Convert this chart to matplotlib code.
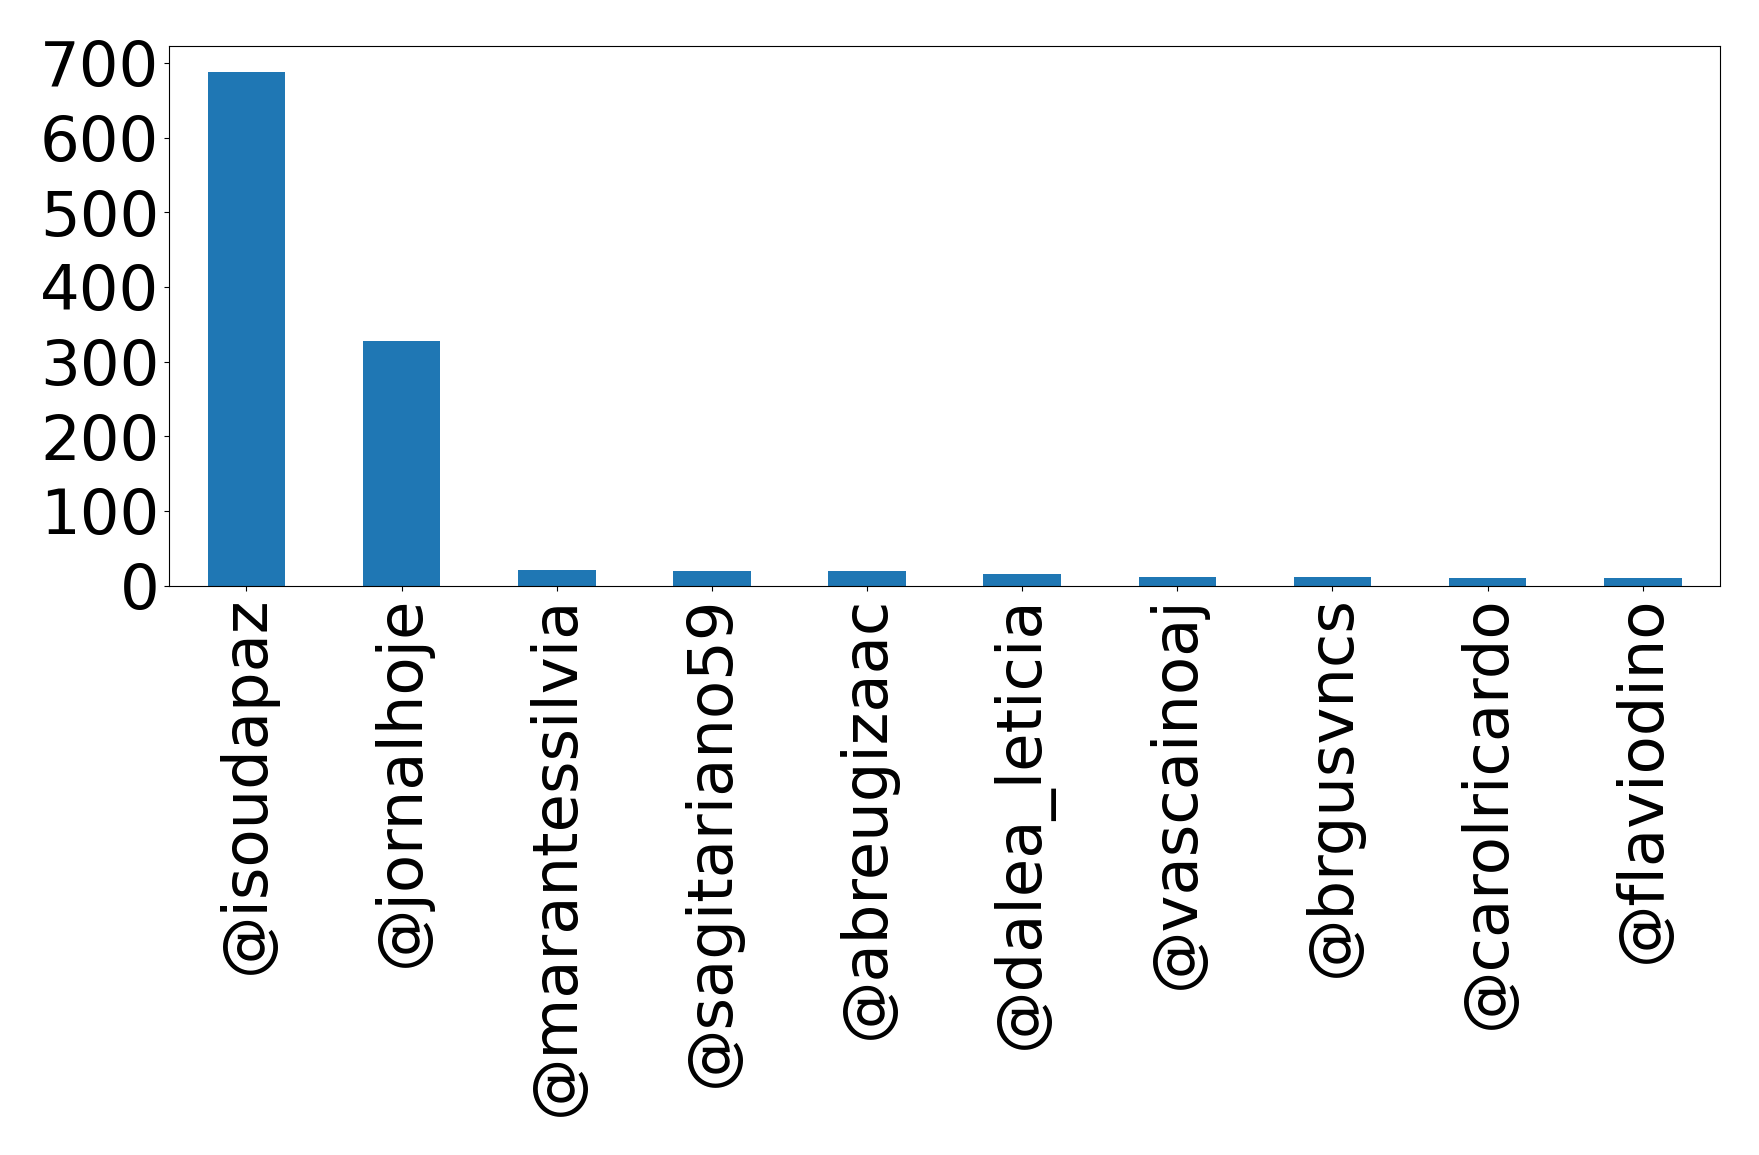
import matplotlib
matplotlib.use("Agg")
import matplotlib.pyplot as plt
import numpy as np

users = ['@isoudapaz', '@jornalhoje', '@marantessilvia', '@sagitariano59',
         '@abreugizaac', '@dalea_leticia', '@vascainoaj', '@brgusvncs',
         '@carolricardo', '@flaviodino']
counts = [688, 327, 21, 19, 19, 16, 12, 11, 10, 10]

fig, ax = plt.subplots(figsize=(17.59, 11.55), dpi=100)
fig.subplots_adjust(left=0.096, right=0.978, top=0.960, bottom=0.493)

x = np.arange(len(users))
ax.bar(x, counts, width=0.5, color='#1f77b4')
ax.set_xlim(-0.5, len(users) - 0.5)
ax.set_xticks(x)
ax.set_xticklabels(users, rotation=90)
ax.set_yticks(np.arange(0, 701, 100))
ax.tick_params(axis='both', labelsize=45)

fig.savefig('out.png')
